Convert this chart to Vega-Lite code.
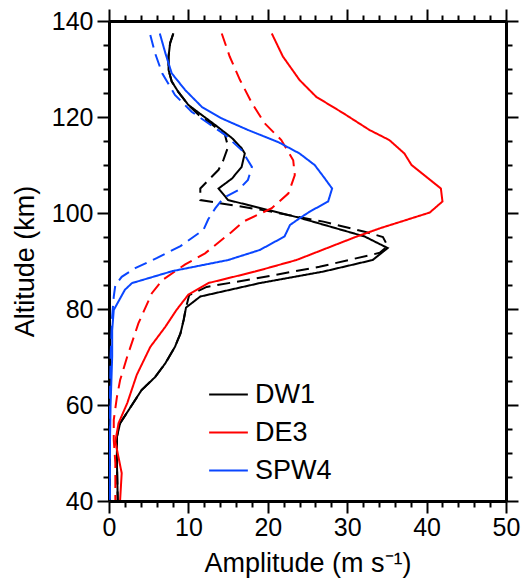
{
  "$schema": "https://vega.github.io/schema/vega-lite/v6.json",
  "width": 397,
  "height": 480,
  "autosize": {"type": "none"},
  "padding": {"left": 109, "top": 21, "right": 20, "bottom": 79},
  "config": {
    "view": {"stroke": null},
    "font": "Liberation Sans",
    "axis": {"labelFont": "Liberation Sans", "titleFont": "Liberation Sans", "labelColor": "#000", "titleColor": "#000", "tickColor": "#000", "domainColor": "#000", "grid": false, "titleFontWeight": "normal"},
    "legend": {"labelFont": "Liberation Sans", "labelColor": "#000"}
  },
  "datasets": {
    "prof": [
      {"s":"DW1","t":"solid","a":8.1,"h":137.4},{"s":"DW1","t":"solid","a":7.7,"h":135.4},{"s":"DW1","t":"solid","a":7.5,"h":132.6},{"s":"DW1","t":"solid","a":7.5,"h":129.8},{"s":"DW1","t":"solid","a":7.9,"h":127.4},{"s":"DW1","t":"solid","a":8.7,"h":125.3},{"s":"DW1","t":"solid","a":10.0,"h":122.5},{"s":"DW1","t":"solid","a":11.7,"h":120.4},{"s":"DW1","t":"solid","a":13.4,"h":118.3},{"s":"DW1","t":"solid","a":15.5,"h":115.6},{"s":"DW1","t":"solid","a":16.7,"h":113.5},{"s":"DW1","t":"solid","a":17.1,"h":112.4},{"s":"DW1","t":"solid","a":16.7,"h":109.6},{"s":"DW1","t":"solid","a":15.5,"h":107.2},{"s":"DW1","t":"solid","a":13.8,"h":105.1},{"s":"DW1","t":"solid","a":15.0,"h":102.7},{"s":"DW1","t":"solid","a":24.0,"h":99.0},{"s":"DW1","t":"solid","a":32.2,"h":95.1},{"s":"DW1","t":"solid","a":35.1,"h":92.7},{"s":"DW1","t":"solid","a":33.2,"h":90.2},{"s":"DW1","t":"solid","a":27.0,"h":87.8},{"s":"DW1","t":"solid","a":19.0,"h":85.4},{"s":"DW1","t":"solid","a":11.5,"h":82.6},{"s":"DW1","t":"solid","a":9.7,"h":80.3},{"s":"DW1","t":"solid","a":9.4,"h":77.7},{"s":"DW1","t":"solid","a":9.0,"h":74.9},{"s":"DW1","t":"solid","a":8.3,"h":72.1},{"s":"DW1","t":"solid","a":7.1,"h":68.7},{"s":"DW1","t":"solid","a":5.8,"h":65.8},{"s":"DW1","t":"solid","a":4.1,"h":63.1},{"s":"DW1","t":"solid","a":2.5,"h":59.0},{"s":"DW1","t":"solid","a":1.4,"h":56.2},{"s":"DW1","t":"solid","a":1.0,"h":53.4},{"s":"DW1","t":"solid","a":1.0,"h":47.9},{"s":"DW1","t":"solid","a":1.1,"h":40.2},

      {"s":"DW1","t":"dashed","a":8.1,"h":137.4},{"s":"DW1","t":"dashed","a":7.7,"h":135.4},{"s":"DW1","t":"dashed","a":7.5,"h":132.6},{"s":"DW1","t":"dashed","a":7.5,"h":129.8},{"s":"DW1","t":"dashed","a":7.9,"h":127.4},{"s":"DW1","t":"dashed","a":8.7,"h":125.3},{"s":"DW1","t":"dashed","a":10.0,"h":122.5},{"s":"DW1","t":"dashed","a":11.5,"h":120.1},{"s":"DW1","t":"dashed","a":13.1,"h":118.3},{"s":"DW1","t":"dashed","a":14.6,"h":116.3},{"s":"DW1","t":"dashed","a":15.0,"h":113.8},{"s":"DW1","t":"dashed","a":14.4,"h":111.0},{"s":"DW1","t":"dashed","a":13.8,"h":109.0},{"s":"DW1","t":"dashed","a":11.5,"h":105.1},{"s":"DW1","t":"dashed","a":11.5,"h":102.7},{"s":"DW1","t":"dashed","a":19.4,"h":100.6},{"s":"DW1","t":"dashed","a":27.0,"h":98.2},{"s":"DW1","t":"dashed","a":32.2,"h":96.1},{"s":"DW1","t":"dashed","a":34.5,"h":95.0},{"s":"DW1","t":"dashed","a":35.1,"h":93.1},{"s":"DW1","t":"dashed","a":34.1,"h":91.7},{"s":"DW1","t":"dashed","a":26.5,"h":88.8},{"s":"DW1","t":"dashed","a":18.6,"h":86.4},{"s":"DW1","t":"dashed","a":12.3,"h":84.6},{"s":"DW1","t":"dashed","a":10.1,"h":82.9},{"s":"DW1","t":"dashed","a":9.7,"h":80.3},{"s":"DW1","t":"dashed","a":9.4,"h":77.7},{"s":"DW1","t":"dashed","a":9.0,"h":74.9},{"s":"DW1","t":"dashed","a":8.3,"h":72.1},{"s":"DW1","t":"dashed","a":7.1,"h":68.7},{"s":"DW1","t":"dashed","a":5.8,"h":65.8},{"s":"DW1","t":"dashed","a":4.1,"h":63.1},{"s":"DW1","t":"dashed","a":2.5,"h":59.0},{"s":"DW1","t":"dashed","a":1.4,"h":56.2},{"s":"DW1","t":"dashed","a":1.0,"h":53.4},{"s":"DW1","t":"dashed","a":1.0,"h":47.9},{"s":"DW1","t":"dashed","a":1.1,"h":40.2},

      {"s":"DE3","t":"solid","a":20.5,"h":137.4},{"s":"DE3","t":"solid","a":21.9,"h":132.6},{"s":"DE3","t":"solid","a":24.0,"h":127.7},{"s":"DE3","t":"solid","a":26.1,"h":124.2},{"s":"DE3","t":"solid","a":29.5,"h":120.8},{"s":"DE3","t":"solid","a":32.8,"h":117.3},{"s":"DE3","t":"solid","a":35.3,"h":115.2},{"s":"DE3","t":"solid","a":37.2,"h":112.4},{"s":"DE3","t":"solid","a":38.1,"h":110.0},{"s":"DE3","t":"solid","a":41.8,"h":105.1},{"s":"DE3","t":"solid","a":42.0,"h":102.4},{"s":"DE3","t":"solid","a":40.4,"h":100.1},{"s":"DE3","t":"solid","a":34.1,"h":96.8},{"s":"DE3","t":"solid","a":31.2,"h":95.1},{"s":"DE3","t":"solid","a":23.6,"h":90.2},{"s":"DE3","t":"solid","a":18.4,"h":87.8},{"s":"DE3","t":"solid","a":12.5,"h":85.4},{"s":"DE3","t":"solid","a":10.0,"h":83.0},{"s":"DE3","t":"solid","a":8.5,"h":79.8},{"s":"DE3","t":"solid","a":7.1,"h":76.3},{"s":"DE3","t":"solid","a":5.2,"h":72.1},{"s":"DE3","t":"solid","a":3.5,"h":66.3},{"s":"DE3","t":"solid","a":2.3,"h":60.4},{"s":"DE3","t":"solid","a":1.2,"h":56.2},{"s":"DE3","t":"solid","a":0.8,"h":52.4},{"s":"DE3","t":"solid","a":1.6,"h":45.8},{"s":"DE3","t":"solid","a":1.4,"h":40.2},

      {"s":"DE3","t":"dashed","a":14.2,"h":137.4},{"s":"DE3","t":"dashed","a":15.2,"h":132.6},{"s":"DE3","t":"dashed","a":16.5,"h":127.7},{"s":"DE3","t":"dashed","a":18.0,"h":122.9},{"s":"DE3","t":"dashed","a":19.6,"h":118.7},{"s":"DE3","t":"dashed","a":21.7,"h":115.2},{"s":"DE3","t":"dashed","a":23.2,"h":111.0},{"s":"DE3","t":"dashed","a":23.4,"h":107.9},{"s":"DE3","t":"dashed","a":22.6,"h":104.1},{"s":"DE3","t":"dashed","a":20.5,"h":101.0},{"s":"DE3","t":"dashed","a":16.9,"h":98.2},{"s":"DE3","t":"dashed","a":15.4,"h":96.0},{"s":"DE3","t":"dashed","a":12.1,"h":91.6},{"s":"DE3","t":"dashed","a":9.6,"h":89.3},{"s":"DE3","t":"dashed","a":6.7,"h":86.0},{"s":"DE3","t":"dashed","a":5.4,"h":83.3},{"s":"DE3","t":"dashed","a":3.7,"h":77.0},{"s":"DE3","t":"dashed","a":2.3,"h":70.1},{"s":"DE3","t":"dashed","a":1.4,"h":65.2},{"s":"DE3","t":"dashed","a":1.0,"h":61.7},{"s":"DE3","t":"dashed","a":0.6,"h":56.9},{"s":"DE3","t":"dashed","a":0.6,"h":52.7},{"s":"DE3","t":"dashed","a":0.8,"h":47.9},{"s":"DE3","t":"dashed","a":0.8,"h":40.2},

      {"s":"SPW4","t":"solid","a":6.4,"h":137.4},{"s":"SPW4","t":"solid","a":7.1,"h":133.3},{"s":"SPW4","t":"solid","a":7.9,"h":129.1},{"s":"SPW4","t":"solid","a":9.6,"h":125.6},{"s":"SPW4","t":"solid","a":11.7,"h":122.1},{"s":"SPW4","t":"solid","a":14.2,"h":119.7},{"s":"SPW4","t":"solid","a":17.5,"h":117.3},{"s":"SPW4","t":"solid","a":21.4,"h":114.7},{"s":"SPW4","t":"solid","a":24.0,"h":112.4},{"s":"SPW4","t":"solid","a":25.9,"h":110.0},{"s":"SPW4","t":"solid","a":27.0,"h":107.6},{"s":"SPW4","t":"solid","a":28.1,"h":105.1},{"s":"SPW4","t":"solid","a":27.6,"h":102.4},{"s":"SPW4","t":"solid","a":25.3,"h":100.3},{"s":"SPW4","t":"solid","a":24.0,"h":98.9},{"s":"SPW4","t":"solid","a":22.8,"h":97.5},{"s":"SPW4","t":"solid","a":22.1,"h":95.1},{"s":"SPW4","t":"solid","a":19.0,"h":92.3},{"s":"SPW4","t":"solid","a":15.0,"h":90.2},{"s":"SPW4","t":"solid","a":8.0,"h":87.9},{"s":"SPW4","t":"solid","a":2.9,"h":85.4},{"s":"SPW4","t":"solid","a":2.0,"h":84.0},{"s":"SPW4","t":"solid","a":0.6,"h":79.8},{"s":"SPW4","t":"solid","a":0.4,"h":75.6},{"s":"SPW4","t":"solid","a":0.4,"h":70.1},{"s":"SPW4","t":"solid","a":0.3,"h":65.0},{"s":"SPW4","t":"solid","a":0.2,"h":60.0},{"s":"SPW4","t":"solid","a":0.1,"h":50.0},{"s":"SPW4","t":"solid","a":0.1,"h":40.2},

      {"s":"SPW4","t":"dashed","a":5.2,"h":137.1},{"s":"SPW4","t":"dashed","a":5.8,"h":133.3},{"s":"SPW4","t":"dashed","a":6.7,"h":129.1},{"s":"SPW4","t":"dashed","a":8.3,"h":124.6},{"s":"SPW4","t":"dashed","a":10.4,"h":121.1},{"s":"SPW4","t":"dashed","a":12.5,"h":118.7},{"s":"SPW4","t":"dashed","a":14.6,"h":116.3},{"s":"SPW4","t":"dashed","a":16.7,"h":113.1},{"s":"SPW4","t":"dashed","a":18.0,"h":109.6},{"s":"SPW4","t":"dashed","a":17.5,"h":106.9},{"s":"SPW4","t":"dashed","a":16.3,"h":104.8},{"s":"SPW4","t":"dashed","a":14.4,"h":103.1},{"s":"SPW4","t":"dashed","a":13.4,"h":101.0},{"s":"SPW4","t":"dashed","a":12.5,"h":98.7},{"s":"SPW4","t":"dashed","a":11.9,"h":96.5},{"s":"SPW4","t":"dashed","a":9.0,"h":93.1},{"s":"SPW4","t":"dashed","a":6.0,"h":90.6},{"s":"SPW4","t":"dashed","a":3.3,"h":88.5},{"s":"SPW4","t":"dashed","a":1.6,"h":86.7},{"s":"SPW4","t":"dashed","a":0.8,"h":85.0},{"s":"SPW4","t":"dashed","a":0.6,"h":82.6},{"s":"SPW4","t":"dashed","a":0.4,"h":78.4},{"s":"SPW4","t":"dashed","a":0.2,"h":70.0},{"s":"SPW4","t":"dashed","a":0.1,"h":60.0},{"s":"SPW4","t":"dashed","a":0.1,"h":40.2}
    ]
  },
  "data": {"name": "prof"},
  "resolve": {"axis": {"x": "independent", "y": "independent"}},
  "layer": [
    {
      "mark": {"type": "line", "strokeWidth": 2, "clip": true},
      "encoding": {
        "x": {"field": "a", "type": "quantitative", "scale": {"domain": [0, 50], "nice": false, "zero": false},
          "axis": {"orient": "bottom", "values": [0, 10, 20, 30, 40, 50], "tickSize": 12, "tickWidth": 2, "domainWidth": 3, "labelFontSize": 25, "labelPadding": 2, "labelFlush": false, "title": "Amplitude (m s⁻¹)", "titleFontSize": 27, "titlePadding": 10}},
        "y": {"field": "h", "type": "quantitative", "scale": {"domain": [40, 140], "nice": false, "zero": false},
          "axis": {"orient": "left", "values": [40, 60, 80, 100, 120, 140], "tickSize": 12, "tickWidth": 2, "domainWidth": 3, "labelFontSize": 25, "labelPadding": 4, "labelFlush": false, "title": "Altitude (km)", "titleFontSize": 27, "titlePadding": 12}},
        "color": {"field": "s", "type": "nominal",
          "scale": {"domain": ["DW1", "DE3", "SPW4"], "range": ["#000000", "#ff0000", "#0a46ff"]},
          "legend": {"orient": "none", "legendX": 99, "legendY": 353, "title": null, "symbolType": "stroke", "symbolSize": 1500, "symbolStrokeWidth": 2, "labelFontSize": 27, "labelOffset": 6, "rowPadding": 4, "symbolOffset": 0}},
        "strokeDash": {"field": "t", "type": "nominal", "scale": {"domain": ["solid", "dashed"], "range": [[1, 0], [13, 7]]}, "legend": null},
        "detail": {"field": "t"},
        "order": {"field": "h", "type": "quantitative", "sort": "descending"}
      }
    },
    {
      "mark": {"type": "point", "opacity": 0},
      "encoding": {
        "x": {"field": "a", "type": "quantitative", "axis": {"orient": "bottom", "values": [2,4,6,8,12,14,16,18,22,24,26,28,32,34,36,38,42,44,46,48], "tickSize": 6, "tickWidth": 2, "domain": false, "labels": false, "title": null}},
        "y": {"field": "h", "type": "quantitative", "axis": {"orient": "left", "values": [45,50,55,65,70,75,85,90,95,105,110,115,125,130,135], "tickSize": 6, "tickWidth": 2, "domain": false, "labels": false, "title": null}}
      }
    },
    {
      "mark": {"type": "point", "opacity": 0},
      "encoding": {
        "x": {"field": "a", "type": "quantitative", "axis": {"orient": "top", "values": [0, 10, 20, 30, 40, 50], "tickSize": 12, "tickWidth": 2, "domainWidth": 3, "labels": false, "title": null}},
        "y": {"field": "h", "type": "quantitative", "axis": {"orient": "right", "values": [40, 60, 80, 100, 120, 140], "tickSize": 12, "tickWidth": 2, "domainWidth": 3, "labels": false, "title": null}}
      }
    },
    {
      "mark": {"type": "point", "opacity": 0},
      "encoding": {
        "x": {"field": "a", "type": "quantitative", "axis": {"orient": "top", "values": [2,4,6,8,12,14,16,18,22,24,26,28,32,34,36,38,42,44,46,48], "tickSize": 6, "tickWidth": 2, "domain": false, "labels": false, "title": null}},
        "y": {"field": "h", "type": "quantitative", "axis": {"orient": "right", "values": [45,50,55,65,70,75,85,90,95,105,110,115,125,130,135], "tickSize": 6, "tickWidth": 2, "domain": false, "labels": false, "title": null}}
      }
    }
  ]
}
